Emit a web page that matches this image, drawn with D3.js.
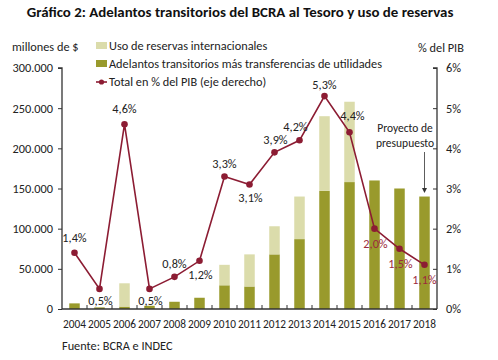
<!DOCTYPE html>
<html>
<head>
<meta charset="utf-8">
<script src="https://cdn.jsdelivr.net/npm/d3@7"></script>
<style>
  body { margin: 0; background: #fff; }
  svg text { font-family: Carlito, Calibri, Lato, sans-serif; }
</style>
</head>
<body>
<div id="chart"></div>
<script>

  var years = ['2004', '2005', '2006', '2007', '2008', '2009', '2010', '2011',
               '2012', '2013', '2014', '2015', '2016', '2017', '2018'];

  // millones de $
  var adelantos = [7000, 2000, 3000, 4000, 9000, 14000, 29500, 28000,
                   68000, 87000, 147000, 158000, 160000, 150000, 140000];
  var reservas = [0, 0, 29000, 0, 0, 0, 25500, 40000,
                  35000, 53000, 93000, 100000, 0, 0, 0];

  // % del PIB
  var pctPib = [1.4, 0.5, 4.6, 0.5, 0.8, 1.2, 3.3, 3.1, 3.9, 4.2, 5.3, 4.4, 2.0, 1.5, 1.1];
  var pctLabels = ['1,4%', '0,5%', '4,6%', '0,5%', '0,8%', '1,2%', '3,3%', '3,1%',
                   '3,9%', '4,2%', '5,3%', '4,4%', '2,0%', '1,5%', '1,1%'];

  var leftTicks = [0, 50000, 100000, 150000, 200000, 250000, 300000];
  var rightTicks = [0, 1, 2, 3, 4, 5, 6];


  (function drawChart() {

    var width = 498
      , height = 360
      , mLeft = 62
      , mRight = 437
      , mTop = 68
      , mBottom = 309;

    var olive = '#999a2c'
      , pale = '#dbdcab'
      , maroon = '#8c1c33'
      , ink = '#222';

    var fs = '12.3px';

    var svg = d3.select('#chart').append('svg')
        .attr('width', width)
        .attr('height', height);

    var x = d3.scaleBand()
        .domain(years)
        .range([mLeft, mRight])
        .paddingInner(0.58)
        .paddingOuter(0.29);

    var xBand = d3.scaleBand()
        .domain(years)
        .range([mLeft, mRight]);

    var y = d3.scaleLinear().domain([0, 300000]).range([mBottom, mTop]);
    var y2 = d3.scaleLinear().domain([0, 6]).range([mBottom, mTop]);

    var fmt = function(d) { return d3.format(',')(d).replace(/,/g, '.'); };
    var cx = function(i) { return xBand(years[i]) + xBand.bandwidth() / 2; };

    // title
    svg.append('text')
        .attr('x', 240)
        .attr('y', 17)
        .attr('text-anchor', 'middle')
        .style('font-weight', 'bold')
        .style('font-size', '14.9px')
        .attr('fill', '#111')
        .text('Gráfico 2: Adelantos transitorios del BCRA al Tesoro y uso de reservas');

    // bars
    var rows = years.map(function(yr, i) {
      return { year: yr, a: adelantos[i], r: reservas[i] };
    });

    svg.append('g').selectAll('rect')
        .data(rows)
      .enter().append('rect')
        .attr('x', function(d) { return x(d.year); })
        .attr('width', x.bandwidth())
        .attr('y', function(d) { return y(d.a); })
        .attr('height', function(d) { return y(0) - y(d.a); })
        .attr('fill', olive);

    svg.append('g').selectAll('rect')
        .data(rows.filter(function(d) { return d.r > 0; }))
      .enter().append('rect')
        .attr('x', function(d) { return x(d.year); })
        .attr('width', x.bandwidth())
        .attr('y', function(d) { return y(d.a + d.r); })
        .attr('height', function(d) { return y(d.a) - y(d.a + d.r); })
        .attr('fill', pale);

    // axes
    var leftAxis = svg.append('g')
        .attr('transform', 'translate(' + mLeft + ',0)')
        .call(d3.axisLeft(y).tickValues(leftTicks).tickFormat(fmt).tickSize(4).tickPadding(5));

    var rightAxis = svg.append('g')
        .attr('transform', 'translate(' + mRight + ',0)')
        .call(d3.axisRight(y2).tickValues(rightTicks).tickFormat(function(d) { return d + '%'; })
          .tickSizeInner(-4).tickSizeOuter(0).tickPadding(9));

    var bottomAxis = svg.append('g')
        .attr('transform', 'translate(0,' + mBottom + ')')
        .call(d3.axisBottom(xBand).tickSize(0).tickPadding(11));

    // category boundary ticks
    svg.append('g').selectAll('line')
        .data(years.slice(1))
      .enter().append('line')
        .attr('x1', function(d) { return xBand(d); })
        .attr('x2', function(d) { return xBand(d); })
        .attr('y1', mBottom)
        .attr('y2', mBottom - 4)
        .attr('stroke', '#333');

    [leftAxis, rightAxis, bottomAxis].forEach(function(g) {
      g.select('.domain').attr('stroke', '#333').attr('stroke-width', 1.3);
      g.selectAll('.tick line').attr('stroke', '#333');
      g.selectAll('.tick text').style('font-size', fs).attr('fill', ink);
    });
    bottomAxis.selectAll('.tick text').style('font-size', '11.3px');
    leftAxis.select('.domain').attr('d', 'M-4,' + mTop + 'H0V' + mBottom);
    rightAxis.select('.domain').attr('d', 'M-4,' + mTop + 'H0V' + mBottom);
    bottomAxis.select('.domain').attr('d', 'M' + mLeft + ',0H' + mRight);

    // line
    var line = d3.line()
        .x(function(d, i) { return cx(i); })
        .y(function(d) { return y2(d); });

    svg.append('path')
        .datum(pctPib)
        .attr('d', line)
        .attr('fill', 'none')
        .attr('stroke', maroon)
        .attr('stroke-width', 1.6);

    svg.append('g').selectAll('circle')
        .data(pctPib)
      .enter().append('circle')
        .attr('cx', function(d, i) { return cx(i); })
        .attr('cy', function(d) { return y2(d); })
        .attr('r', 3.3)
        .attr('fill', maroon);

    // label offsets [dx, dy] from the point
    var labelPos = [[0, -11], [1, 16], [0, -11], [1, 16], [0, -9], [1, 18], [0, -8], [1, 18],
                    [1, -8], [-4, -9], [0, -7], [3, -12], [1, 19], [1, 19], [0, 19]];

    svg.append('g').selectAll('text')
        .data(pctPib)
      .enter().append('text')
        .attr('x', function(d, i) { return cx(i) + labelPos[i][0]; })
        .attr('y', function(d, i) { return y2(d) + labelPos[i][1]; })
        .attr('text-anchor', 'middle')
        .style('font-size', fs)
        .attr('fill', function(d, i) { return i >= 12 ? '#9c2a3c' : ink; })
        .text(function(d, i) { return pctLabels[i]; });

    // axis titles
    svg.append('text').attr('x', 12).attr('y', 51).style('font-size', fs).attr('fill', ink)
        .text('millones de $');
    svg.append('text').attr('x', 418).attr('y', 52).style('font-size', fs).attr('fill', ink)
        .text('% del PIB');

    // legend
    var legend = svg.append('g').attr('transform', 'translate(96,0)');
    legend.append('rect').attr('x', 0).attr('y', 42).attr('width', 11).attr('height', 7).attr('fill', pale);
    legend.append('rect').attr('x', 0).attr('y', 60).attr('width', 11).attr('height', 7).attr('fill', olive);
    legend.append('line').attr('x1', 0).attr('x2', 11).attr('y1', 82).attr('y2', 82)
        .attr('stroke', maroon).attr('stroke-width', 1.6);
    legend.append('circle').attr('cx', 5.5).attr('cy', 82).attr('r', 2.6).attr('fill', maroon);
    [['Uso de reservas internacionales', 50],
     ['Adelantos transitorios más transferencias de utilidades', 68],
     ['Total en % del PIB (eje derecho)', 86]].forEach(function(t) {
      legend.append('text').attr('x', 13).attr('y', t[1]).style('font-size', fs).attr('fill', ink).text(t[0]);
    });

    // annotation
    var ax = cx(years.length - 1);
    svg.append('text').attr('x', 405).attr('y', 132).attr('text-anchor', 'middle')
        .style('font-size', '11.5px').attr('fill', ink).text('Proyecto de');
    svg.append('text').attr('x', 405).attr('y', 147).attr('text-anchor', 'middle')
        .style('font-size', '11.5px').attr('fill', ink).text('presupuesto');
    svg.append('line').attr('x1', ax).attr('x2', ax).attr('y1', 152).attr('y2', 189)
        .attr('stroke', '#333').attr('stroke-width', 0.8);
    svg.append('path')
        .attr('d', 'M' + (ax - 2.5) + ',188L' + (ax + 2.5) + ',188L' + ax + ',193Z')
        .attr('fill', '#333');

    // source
    svg.append('text').attr('x', 62).attr('y', 350).style('font-size', fs).attr('fill', ink)
        .text('Fuente:  BCRA e INDEC');

  })();

</script>
</body>
</html>
